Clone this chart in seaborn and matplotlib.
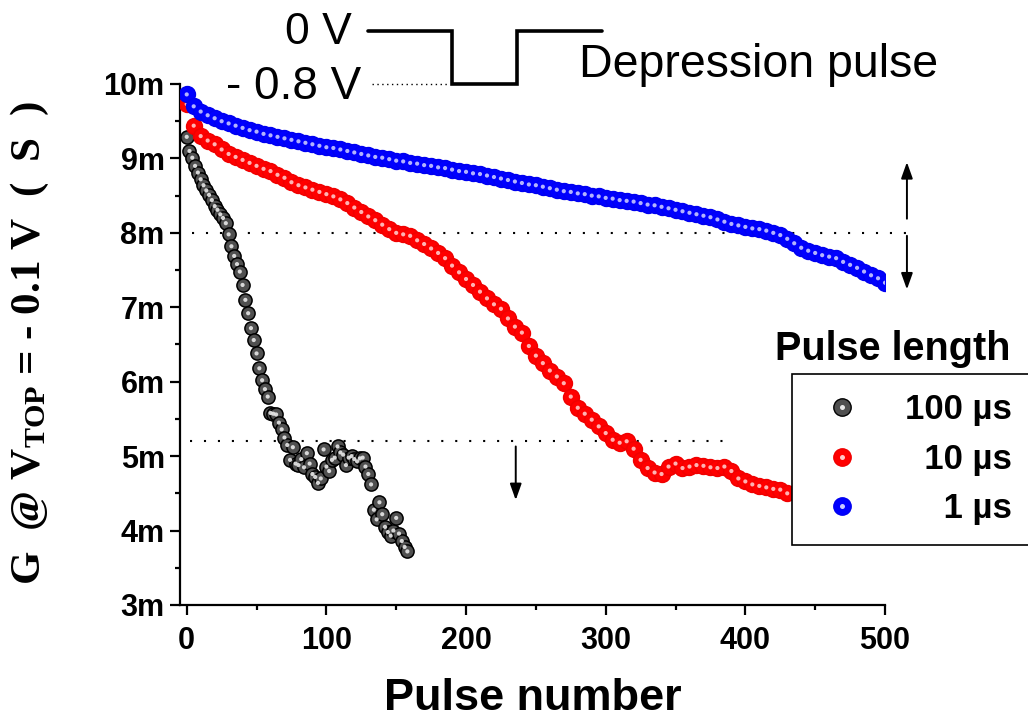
import matplotlib.pyplot as plt
import numpy as np
import pandas as pd
import seaborn as sns
from matplotlib.lines import Line2D

sns.set_style("ticks")
plt.rcParams["font.family"] = ["Liberation Sans", "DejaVu Sans"]
plt.rcParams["mathtext.default"] = "regular"
for key in ["text.color", "axes.labelcolor", "xtick.color", "ytick.color",
            "axes.edgecolor"]:
    plt.rcParams[key] = "black"

# conductance in mS
pulse_100us = np.arange(0, 160, 2)
g_100us = [
    9.29, 9.10, 9.01, 8.90, 8.81, 8.72, 8.64, 8.57, 8.51, 8.44,
    8.36, 8.31, 8.25, 8.20, 8.13, 7.98, 7.82, 7.69, 7.58, 7.48,
    7.30, 7.10, 6.92, 6.72, 6.56, 6.38, 6.18, 6.02, 5.90, 5.80,
    5.58, 5.57, 5.56, 5.45, 5.36, 5.25, 5.15, 4.95, 5.12, 4.90,
    4.88, 4.96, 4.85, 5.04, 4.90, 4.76, 4.72, 4.64, 4.70, 5.09,
    4.86, 4.80, 4.95, 4.98, 5.13, 5.05, 5.02, 4.88, 4.98, 5.00,
    4.96, 4.93, 4.97, 4.98, 4.86, 4.76, 4.62, 4.28, 4.15, 4.38,
    4.22, 4.05, 3.98, 3.93, 4.00, 4.17, 3.96, 3.86, 3.78, 3.72,
]

pulse_10us = np.arange(0, 435, 5)
g_10us = [
    9.73, 9.44, 9.30, 9.24, 9.19, 9.12, 9.06, 9.02, 8.98, 8.94,
    8.90, 8.86, 8.83, 8.78, 8.74, 8.68, 8.64, 8.61, 8.58, 8.55,
    8.52, 8.49, 8.45, 8.40, 8.34, 8.28, 8.22, 8.17, 8.11, 8.05,
    8.00, 7.98, 7.96, 7.90, 7.85, 7.79, 7.73, 7.66, 7.56, 7.47,
    7.38, 7.30, 7.21, 7.12, 7.04, 6.98, 6.85, 6.74, 6.66, 6.48,
    6.35, 6.25, 6.15, 6.07, 5.98, 5.80, 5.65, 5.57, 5.49, 5.40,
    5.31, 5.22, 5.18, 5.20, 5.10, 4.95, 4.84, 4.78, 4.76, 4.86,
    4.90, 4.84, 4.86, 4.88, 4.87, 4.85, 4.84, 4.86, 4.80, 4.70,
    4.66, 4.62, 4.60, 4.58, 4.56, 4.55, 4.50,
]

pulse_1us = np.arange(0, 505, 5)
g_1us = [
    9.86, 9.70, 9.63, 9.58, 9.54, 9.50, 9.47, 9.44, 9.41, 9.38,
    9.36, 9.33, 9.31, 9.29, 9.27, 9.25, 9.23, 9.21, 9.19, 9.17,
    9.15, 9.14, 9.12, 9.10, 9.08, 9.06, 9.04, 9.02, 9.01, 8.99,
    8.97, 8.96, 8.94, 8.93, 8.91, 8.90, 8.88, 8.87, 8.85, 8.83,
    8.82, 8.80, 8.79, 8.77, 8.75, 8.73, 8.71, 8.69, 8.67, 8.65,
    8.64, 8.62, 8.60, 8.58, 8.56, 8.55, 8.53, 8.52, 8.50, 8.49,
    8.47, 8.46, 8.44, 8.43, 8.42, 8.40, 8.38, 8.37, 8.35, 8.33,
    8.31, 8.29, 8.27, 8.25, 8.23, 8.21, 8.18, 8.15, 8.12, 8.10,
    8.08, 8.06, 8.05, 8.03, 8.00, 7.97, 7.92, 7.86, 7.80, 7.76,
    7.73, 7.70, 7.68, 7.66, 7.61, 7.57, 7.53, 7.48, 7.43, 7.39,
    7.33,
]

labels = ["100 \u00b5s", "10 \u00b5s", "1 \u00b5s"]
# body, edge, highlight
styles = {
    "100 \u00b5s": ("#505050", "black", "#e8e8e8"),
    "10 \u00b5s": ("#ff0000", "#f00000", "#ffc8c8"),
    "1 \u00b5s": ("#0000ff", "#0000f0", "#c8c8ff"),
}

df = pd.concat([
    pd.DataFrame({"pulse": pulse_100us, "G": g_100us, "length": labels[0]}),
    pd.DataFrame({"pulse": pulse_10us, "G": g_10us, "length": labels[1]}),
    pd.DataFrame({"pulse": pulse_1us, "G": g_1us, "length": labels[2]}),
])

fig = plt.figure(figsize=(10.28, 7.21), dpi=100)
ax = fig.add_axes([180 / 1028, 1 - 605 / 721, 705 / 1028, 521 / 721])

for lab in labels:
    body, edge, hi = styles[lab]
    sub = df[df["length"] == lab]
    size = 90 if lab == labels[0] else 130
    sns.scatterplot(data=sub, x="pulse", y="G", color=body, edgecolor=edge,
                    linewidth=1.1, s=size, ax=ax, legend=False, zorder=3)
    sns.scatterplot(data=sub, x="pulse", y="G", color=hi, edgecolor="none",
                    s=9, ax=ax, legend=False, zorder=3, alpha=0.9)

ax.set_xlim(-4.8, 500)
ax.set_ylim(3, 10)
sns.despine(ax=ax)
for sp in ["left", "bottom"]:
    ax.spines[sp].set_linewidth(1.6)
ax.set_xticks(range(0, 501, 100))
ax.set_xticks(range(50, 500, 100), minor=True)
ax.set_yticks(range(3, 11))
ax.set_yticks(np.arange(3.5, 10, 1.0), minor=True)
ax.set_yticklabels([f"{v}m" for v in range(3, 11)])
ax.tick_params(which="major", direction="out", length=7, width=1.6,
               labelsize=22)
ax.tick_params(axis="x", which="major", pad=8)
ax.tick_params(axis="y", which="major", pad=4)
ax.tick_params(which="minor", direction="out", length=3.8, width=1.6)
for t in ax.get_xticklabels() + ax.get_yticklabels():
    t.set_fontweight("bold")
ax.set_xlabel("Pulse number", fontsize=32.5, fontweight="bold", labelpad=16)
ax.set_ylabel("")

fig.text(30 / 1028, 1 - 343 / 721, "G  @ V$_{TOP}$ = - 0.1 V  (  S  )",
         rotation=90, ha="center", va="center", fontsize=31,
         family=["Liberation Serif", "DejaVu Serif"], fontweight="bold")

# dotted reference levels and arrows
dots = (0, (1, 5.7))
ax.plot([3.8, 516.5], [8.0, 8.0], color="black", lw=1.5, ls=dots, clip_on=False)
ax.plot([2.5, 390], [5.2, 5.2], color="black", lw=1.5, ls=dots, clip_on=False)
arrow = dict(arrowstyle="-|>,head_length=0.7,head_width=0.25", color="black",
             lw=1.4, mutation_scale=14, shrinkA=0, shrinkB=0)
ax.annotate("", xy=(235.6, 4.41), xytext=(235.6, 5.13), arrowprops=arrow)
ax.annotate("", xy=(515.7, 8.95), xytext=(515.7, 8.19), arrowprops=arrow,
            annotation_clip=False)
ax.annotate("", xy=(515.7, 7.24), xytext=(515.7, 7.96), arrowprops=arrow,
            annotation_clip=False)

# depression pulse sketch above the axes
ax.plot([129.5, 190.2, 190.2, 236.6, 236.6, 297.4],
        [10.71, 10.71, 10.0, 10.0, 10.71, 10.71],
        color="black", lw=2.6, clip_on=False, solid_joinstyle="miter")
ax.plot([133, 187], [10.0, 10.0], color="black", lw=1.0, ls=(0, (1, 2.5)),
        clip_on=False)
ax.text(118.1, 10.54, "0 V", ha="right", va="baseline", fontsize=32)
ax.text(125.2, 9.80, "- 0.8 V", ha="right", va="baseline", fontsize=33)
ax.text(281, 10.09, "Depression pulse", ha="left", va="baseline", fontsize=33.5)

# legend
handles = []
for lab in labels:
    body, edge, hi = styles[lab]
    handles.append((
        Line2D([], [], ls="none", marker="o", ms=12.5, mfc=body, mec=edge, mew=1.0),
        Line2D([], [], ls="none", marker="o", ms=3.6, mfc=hi, mec="none"),
    ))
leg_labels = ["100 \u00b5s", "  10 \u00b5s", "    1 \u00b5s"]
leg = ax.legend(handles, leg_labels, loc="upper left",
                bbox_to_anchor=(792 / 1028, 1 - 374 / 721),
                bbox_transform=fig.transFigure, frameon=True, fancybox=False,
                edgecolor="black", framealpha=1, borderpad=0.55,
                labelspacing=0.48, handlelength=1.8, handletextpad=0.9,
                borderaxespad=0, prop={"size": 25, "weight": "bold"})
leg.get_frame().set_linewidth(1.2)
leg.set_zorder(10)
fig.text(775 / 1028, 1 - 360 / 721, "Pulse length", ha="left", va="baseline",
         fontsize=28.5, fontweight="bold")

fig.savefig("out.png", dpi=100)
